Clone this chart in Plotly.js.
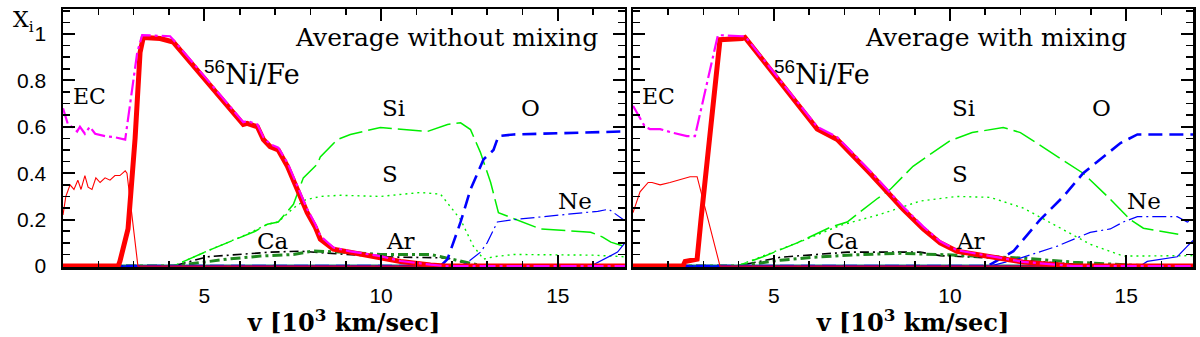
<!DOCTYPE html>
<html>
<head>
<meta charset="utf-8">
<script src="https://cdn.plot.ly/plotly-3.0.1.min.js"></script>
<style>
  html, body { margin: 0; padding: 0; background: #fff; }
  #chart { width: 1200px; height: 337px; }
</style>
</head>
<body>
<div id="chart"></div>
<script>
// velocity in 10^3 km/s, mass fractions X_i
// ---- left panel: average without mixing ----
const niX_nm = [1, 2.56, 2.61, 2.76, 2.84, 3.04, 3.18, 3.27, 3.75, 4.12, 6.10, 6.21, 6.50, 6.67, 6.86, 7.09, 7.35, 7.63, 7.91, 8.14, 8.28, 8.65, 9.13, 9.98, 10.55, 11.40, 11.8, 16.9];
const niY_nm = [0, 0, 0.02, 0.10, 0.16, 0.55, 0.92, 0.985, 0.98, 0.965, 0.61, 0.615, 0.60, 0.545, 0.515, 0.50, 0.43, 0.33, 0.23, 0.167, 0.116, 0.073, 0.06, 0.04, 0.02, 0.005, 0, 0];
const feX_nm = [1, 1.14, 1.25, 1.40, 1.48, 1.62, 1.76, 1.91, 2.19, 2.47, 2.76, 2.90, 3.10, 3.24, 4.03, 4.12, 6.10, 6.21, 6.50, 6.67, 6.86, 7.09, 7.35, 7.63, 7.91, 8.14, 8.28, 8.65, 9.13, 9.98, 10.55, 11.4, 11.8, 16.9];
const feY_nm = [0.68, 0.61, 0.60, 0.58, 0.60, 0.57, 0.60, 0.57, 0.56, 0.555, 0.545, 0.70, 0.92, 0.995, 0.99, 0.975, 0.62, 0.625, 0.61, 0.555, 0.525, 0.51, 0.445, 0.345, 0.245, 0.18, 0.13, 0.08, 0.063, 0.043, 0.022, 0.006, 0, 0];
const ecX_nm = [1, 1.08, 1.20, 1.31, 1.42, 1.51, 1.62, 1.71, 1.82, 1.93, 2.05, 2.19, 2.33, 2.47, 2.61, 2.76, 2.81, 3.12, 16.9];
const ecY_nm = [0.22, 0.30, 0.35, 0.33, 0.37, 0.33, 0.39, 0.34, 0.33, 0.38, 0.36, 0.38, 0.37, 0.39, 0.39, 0.41, 0.40, 0, 0];
const siX_nm = [1, 4.12, 5.16, 6.10, 6.44, 6.78, 7.09, 7.52, 7.80, 8.20, 8.28, 8.76, 9.13, 9.98, 10.55, 11.31, 11.88, 12.25, 12.53, 12.81, 13.10, 13.32, 13.66, 14.51, 15.93, 16.27, 16.50, 16.86];
const siY_nm = [0, 0, 0.07, 0.13, 0.15, 0.18, 0.19, 0.266, 0.38, 0.44, 0.47, 0.545, 0.567, 0.597, 0.59, 0.58, 0.61, 0.617, 0.588, 0.49, 0.36, 0.23, 0.21, 0.16, 0.146, 0.125, 0.103, 0.086];
const sX_nm = [1, 4.12, 5.16, 6.10, 6.78, 7.09, 7.52, 7.86, 8.28, 8.85, 9.98, 11.11, 11.68, 12.25, 12.61, 12.90, 13.18, 13.75, 15.99, 16.9];
const sY_nm = [0, 0, 0.07, 0.13, 0.18, 0.19, 0.25, 0.285, 0.30, 0.305, 0.30, 0.317, 0.31, 0.20, 0.086, 0.03, 0.04, 0.05, 0.047, 0.04];
const oX_nm = [1, 11.68, 11.88, 12.25, 12.53, 12.90, 13.18, 13.32, 13.75, 16.21, 16.9];
const oY_nm = [0, 0, 0.03, 0.19, 0.33, 0.46, 0.50, 0.56, 0.567, 0.575, 0.58];
const neX_nm = [1, 12.25, 12.44, 12.81, 13.0, 13.29, 13.75, 14.71, 16.13, 16.44, 16.86];
const neY_nm = [0, 0, 0.015, 0.06, 0.10, 0.19, 0.20, 0.215, 0.236, 0.245, 0.20];
const caX_nm = [1, 4.12, 5.08, 6.10, 6.86, 7.71, 8.93, 9.98, 11.88, 12.44, 12.81, 16.9];
const caY_nm = [0, 0, 0.04, 0.05, 0.06, 0.064, 0.05, 0.04, 0.035, 0.01, 0, 0];
const arX_nm = [1, 4.12, 5.65, 6.58, 7.52, 8.08, 8.93, 9.98, 11.40, 12.44, 12.81, 16.9];
const arY_nm = [0, 0, 0.03, 0.043, 0.05, 0.065, 0.06, 0.05, 0.05, 0.015, 0.003, 0];
const mgX_nm = [1, 15.93, 16.69, 16.9];
const mgY_nm = [0, 0, 0.06, 0.10];

// ---- right panel: average with mixing ----
const niX_m = [1, 2.42, 2.48, 2.82, 2.93, 3.05, 3.25, 3.47, 4.10, 4.18, 6.23, 6.80, 7.73, 8.22, 8.67, 9.24, 9.72, 10.20, 11.14, 12.08, 13.50, 16.9];
const niY_m = [0, 0, 0.02, 0.03, 0.20, 0.37, 0.65, 0.975, 0.98, 0.985, 0.59, 0.545, 0.40, 0.317, 0.245, 0.16, 0.10, 0.064, 0.04, 0.017, 0, 0];
const feX_m = [1, 1.34, 1.48, 1.77, 2.11, 2.53, 2.76, 3.13, 3.41, 4.13, 4.18, 6.23, 6.80, 7.73, 8.22, 8.67, 9.24, 9.72, 10.20, 11.14, 12.08, 13.5, 16.9];
const feY_m = [0.69, 0.60, 0.59, 0.59, 0.575, 0.56, 0.56, 0.80, 0.995, 0.99, 0.99, 0.60, 0.555, 0.41, 0.327, 0.255, 0.17, 0.107, 0.068, 0.042, 0.018, 0, 0];
const ecX_m = [1, 1.20, 1.43, 1.54, 1.77, 2.05, 2.62, 2.82, 3.47, 16.9];
const ecY_m = [0.23, 0.32, 0.36, 0.36, 0.35, 0.36, 0.385, 0.385, 0, 0];
const siX_m = [1, 3.95, 4.69, 5.66, 6.60, 7.08, 7.93, 8.30, 8.95, 9.24, 10.0, 10.63, 11.51, 12.0, 13.05, 13.78, 14.47, 15.12, 15.49, 16.48];
const siY_m = [0, 0, 0.04, 0.10, 0.167, 0.19, 0.29, 0.33, 0.43, 0.46, 0.54, 0.575, 0.597, 0.575, 0.47, 0.40, 0.30, 0.20, 0.163, 0.137];
const sX_m = [1, 3.95, 5.66, 6.88, 8.02, 9.15, 10.20, 11.14, 12.08, 13.05, 13.98, 14.92, 16.45, 16.9];
const sY_m = [0, 0, 0.10, 0.175, 0.223, 0.28, 0.30, 0.296, 0.25, 0.17, 0.094, 0.043, 0.043, 0.045];
const oX_m = [1, 11.06, 11.80, 12.56, 13.22, 13.78, 14.84, 15.32, 16.9];
const oY_m = [0, 0, 0.064, 0.20, 0.30, 0.40, 0.53, 0.567, 0.567];
const neX_m = [1, 11.14, 11.91, 13.05, 13.98, 14.55, 14.92, 15.32, 16.45, 16.74, 16.88];
const neY_m = [0, 0, 0.03, 0.086, 0.145, 0.16, 0.19, 0.213, 0.213, 0.19, 0.20];
const caX_m = [1, 3.95, 5.18, 6.11, 7.08, 9.15, 9.72, 11.14, 12.56, 13.7, 14.27, 16.9];
const caY_m = [0, 0, 0.038, 0.05, 0.06, 0.06, 0.045, 0.035, 0.02, 0.005, 0, 0];
const arX_m = [1, 3.95, 5.18, 6.11, 7.08, 8.59, 10.20, 12.08, 13.5, 14.92, 15.7, 16.9];
const arY_m = [0, 0, 0.025, 0.038, 0.047, 0.055, 0.047, 0.034, 0.017, 0.005, 0, 0];
const mgX_m = [1, 15.4, 15.6, 16.45, 16.74, 16.9];
const mgY_m = [0, 0, 0.02, 0.04, 0.086, 0.11];

const zeroX = [1, 16.9];
const zeroY = [0, 0];

const yTickVals = [0, 0.2, 0.4, 0.6, 0.8, 1];
const yTickText = ['0', '0.2', '0.4', '0.6', '0.8', '1'];
const xTickVals = [5, 10, 15];
const xTickText = ['5', '10', '15'];

const RED = '#ff0000';
const MAGENTA = '#ff00ff';
const LIME = '#00ee00';
const BLUE = '#0000ff';
const DKGREEN = '#1f8a1f';
const SERIF = 'DejaVu Serif, serif';
const SANS = 'Liberation Sans, Arial, sans-serif';

function panel(xa, ya, d) {
  const t = (x, y, line) => ({ x, y, xaxis: xa, yaxis: ya, type: 'scatter', mode: 'lines', line, hoverinfo: 'skip' });
  return [
    t(zeroX, zeroY, { color: '#008080', width: 3 }),
    t(zeroX, zeroY, { color: BLUE, width: 1, dash: '6px,6px' }),
    t(d.caX, d.caY, { color: '#000000', width: 1.6, dash: '9px,4px,2px,4px' }),
    t(d.arX, d.arY, { color: DKGREEN, width: 3, dash: '10px,4px,3px,4px' }),
    t(d.sX, d.sY, { color: LIME, width: 1.4, dash: '2px,4px' }),
    t(d.siX, d.siY, { color: LIME, width: 1.5, dash: '24px,6px' }),
    t(d.mgX, d.mgY, { color: BLUE, width: 1.2 }),
    t(d.oX, d.oY, { color: BLUE, width: 2.6, dash: '14px,7px' }),
    t(d.neX, d.neY, { color: BLUE, width: 1.2, dash: '14px,4px,2px,4px' }),
    t(d.ecX, d.ecY, { color: RED, width: 1.1 }),
    t(d.niX, d.niY, { color: RED, width: 5 }),
    t(d.feX, d.feY, { color: MAGENTA, width: 2.2, dash: '16px,4px,3px,4px' }),
  ];
}

const data = [
  ...panel('x', 'y', {
    niX: niX_nm, niY: niY_nm, feX: feX_nm, feY: feY_nm, ecX: ecX_nm, ecY: ecY_nm,
    siX: siX_nm, siY: siY_nm, sX: sX_nm, sY: sY_nm, oX: oX_nm, oY: oY_nm,
    neX: neX_nm, neY: neY_nm, caX: caX_nm, caY: caY_nm, arX: arX_nm, arY: arY_nm,
    mgX: mgX_nm, mgY: mgY_nm,
  }),
  ...panel('x2', 'y2', {
    niX: niX_m, niY: niY_m, feX: feX_m, feY: feY_m, ecX: ecX_m, ecY: ecY_m,
    siX: siX_m, siY: siY_m, sX: sX_m, sY: sY_m, oX: oX_m, oY: oY_m,
    neX: neX_m, neY: neY_m, caX: caX_m, caY: caY_m, arX: arX_m, arY: arY_m,
    mgX: mgX_m, mgY: mgY_m,
  }),
];

function xAxis(domain, anchor) {
  return {
    domain, anchor,
    range: [1, 16.9],
    tickmode: 'array', tickvals: xTickVals, ticktext: xTickText,
    ticks: 'inside', ticklen: 12, tickwidth: 2, tickcolor: '#000',
    minor: { tickmode: 'linear', tick0: 0, dtick: 1, ticks: 'inside', ticklen: 6, tickwidth: 1.6, tickcolor: '#000' },
    showline: true, linewidth: 2.5, linecolor: '#000', mirror: 'ticks',
    showgrid: false, zeroline: false,
    ticklabelstandoff: 8,
    tickfont: { family: SANS, size: 21, color: '#000' },
    title: {
      text: 'v [10<sup>3</sup> km/sec]',
      font: { family: SERIF, size: 24, color: '#000', weight: 'bold' },
      standoff: 6,
    },
  };
}
function yAxis(domain, anchor, labels) {
  return {
    domain, anchor,
    range: [-0.004, 1.107],
    tickmode: 'array', tickvals: yTickVals, ticktext: yTickText,
    showticklabels: labels,
    ticks: 'inside', ticklen: 12, tickwidth: 2, tickcolor: '#000',
    minor: { tickmode: 'linear', tick0: 0, dtick: 0.05, ticks: 'inside', ticklen: 7, tickwidth: 1.6, tickcolor: '#000' },
    showline: true, linewidth: 2.5, linecolor: '#000', mirror: 'ticks',
    showgrid: false, zeroline: false,
    ticklabelstandoff: 10,
    tickfont: { family: SANS, size: 21, color: '#000' },
  };
}

function label(xref, yref, x, y, text, size) {
  return {
    xref, yref, x, y, text, showarrow: false,
    font: { family: SERIF, size: size || 22, color: '#000' },
  };
}

const NI_TEXT = '<span style="font-family:Liberation Sans">' + '<sup>56</sup></span>Ni/Fe';

const annotations = [
  label('x', 'y', 1.74, 0.73, 'EC'),
  label('x', 'y', 6.35, 0.83, NI_TEXT, 27),
  label('x', 'y', 11.85, 0.985, 'Average without mixing', 25),
  label('x', 'y', 10.35, 0.68, 'Si', 23),
  label('x', 'y', 14.23, 0.68, 'O', 23),
  label('x', 'y', 10.26, 0.395, 'S', 23),
  label('x', 'y', 15.48, 0.28, 'Ne', 23),
  label('x', 'y', 6.95, 0.107, 'Ca', 23),
  label('x', 'y', 10.55, 0.107, 'Ar', 23),
  label('x2', 'y2', 1.71, 0.73, 'EC'),
  label('x2', 'y2', 6.37, 0.83, NI_TEXT, 27),
  label('x2', 'y2', 11.31, 0.985, 'Average with mixing', 25),
  label('x2', 'y2', 10.38, 0.68, 'Si', 23),
  label('x2', 'y2', 14.30, 0.68, 'O', 23),
  label('x2', 'y2', 10.29, 0.395, 'S', 23),
  label('x2', 'y2', 15.52, 0.28, 'Ne', 23),
  label('x2', 'y2', 6.97, 0.107, 'Ca', 23),
  label('x2', 'y2', 10.57, 0.107, 'Ar', 23),
  {
    xref: 'paper', yref: 'paper', x: 0.009, y: 0.935, xanchor: 'left', yanchor: 'middle',
    text: 'X<sub>i</sub>', showarrow: false,
    font: { family: SERIF, size: 22, color: '#000' },
  },
];

const layout = {
  width: 1200, height: 337,
  margin: { l: 0, r: 0, t: 0, b: 0 },
  paper_bgcolor: '#fff', plot_bgcolor: '#fff',
  showlegend: false,
  xaxis: xAxis([0.0525, 0.5208], 'y'),
  yaxis: yAxis([0.2077, 0.973], 'x', true),
  xaxis2: xAxis([0.5275, 0.9942], 'y2'),
  yaxis2: yAxis([0.2077, 0.973], 'x2', false),
  annotations,
};

Plotly.newPlot('chart', data, layout, { displayModeBar: false, staticPlot: true });
</script>
</body>
</html>
